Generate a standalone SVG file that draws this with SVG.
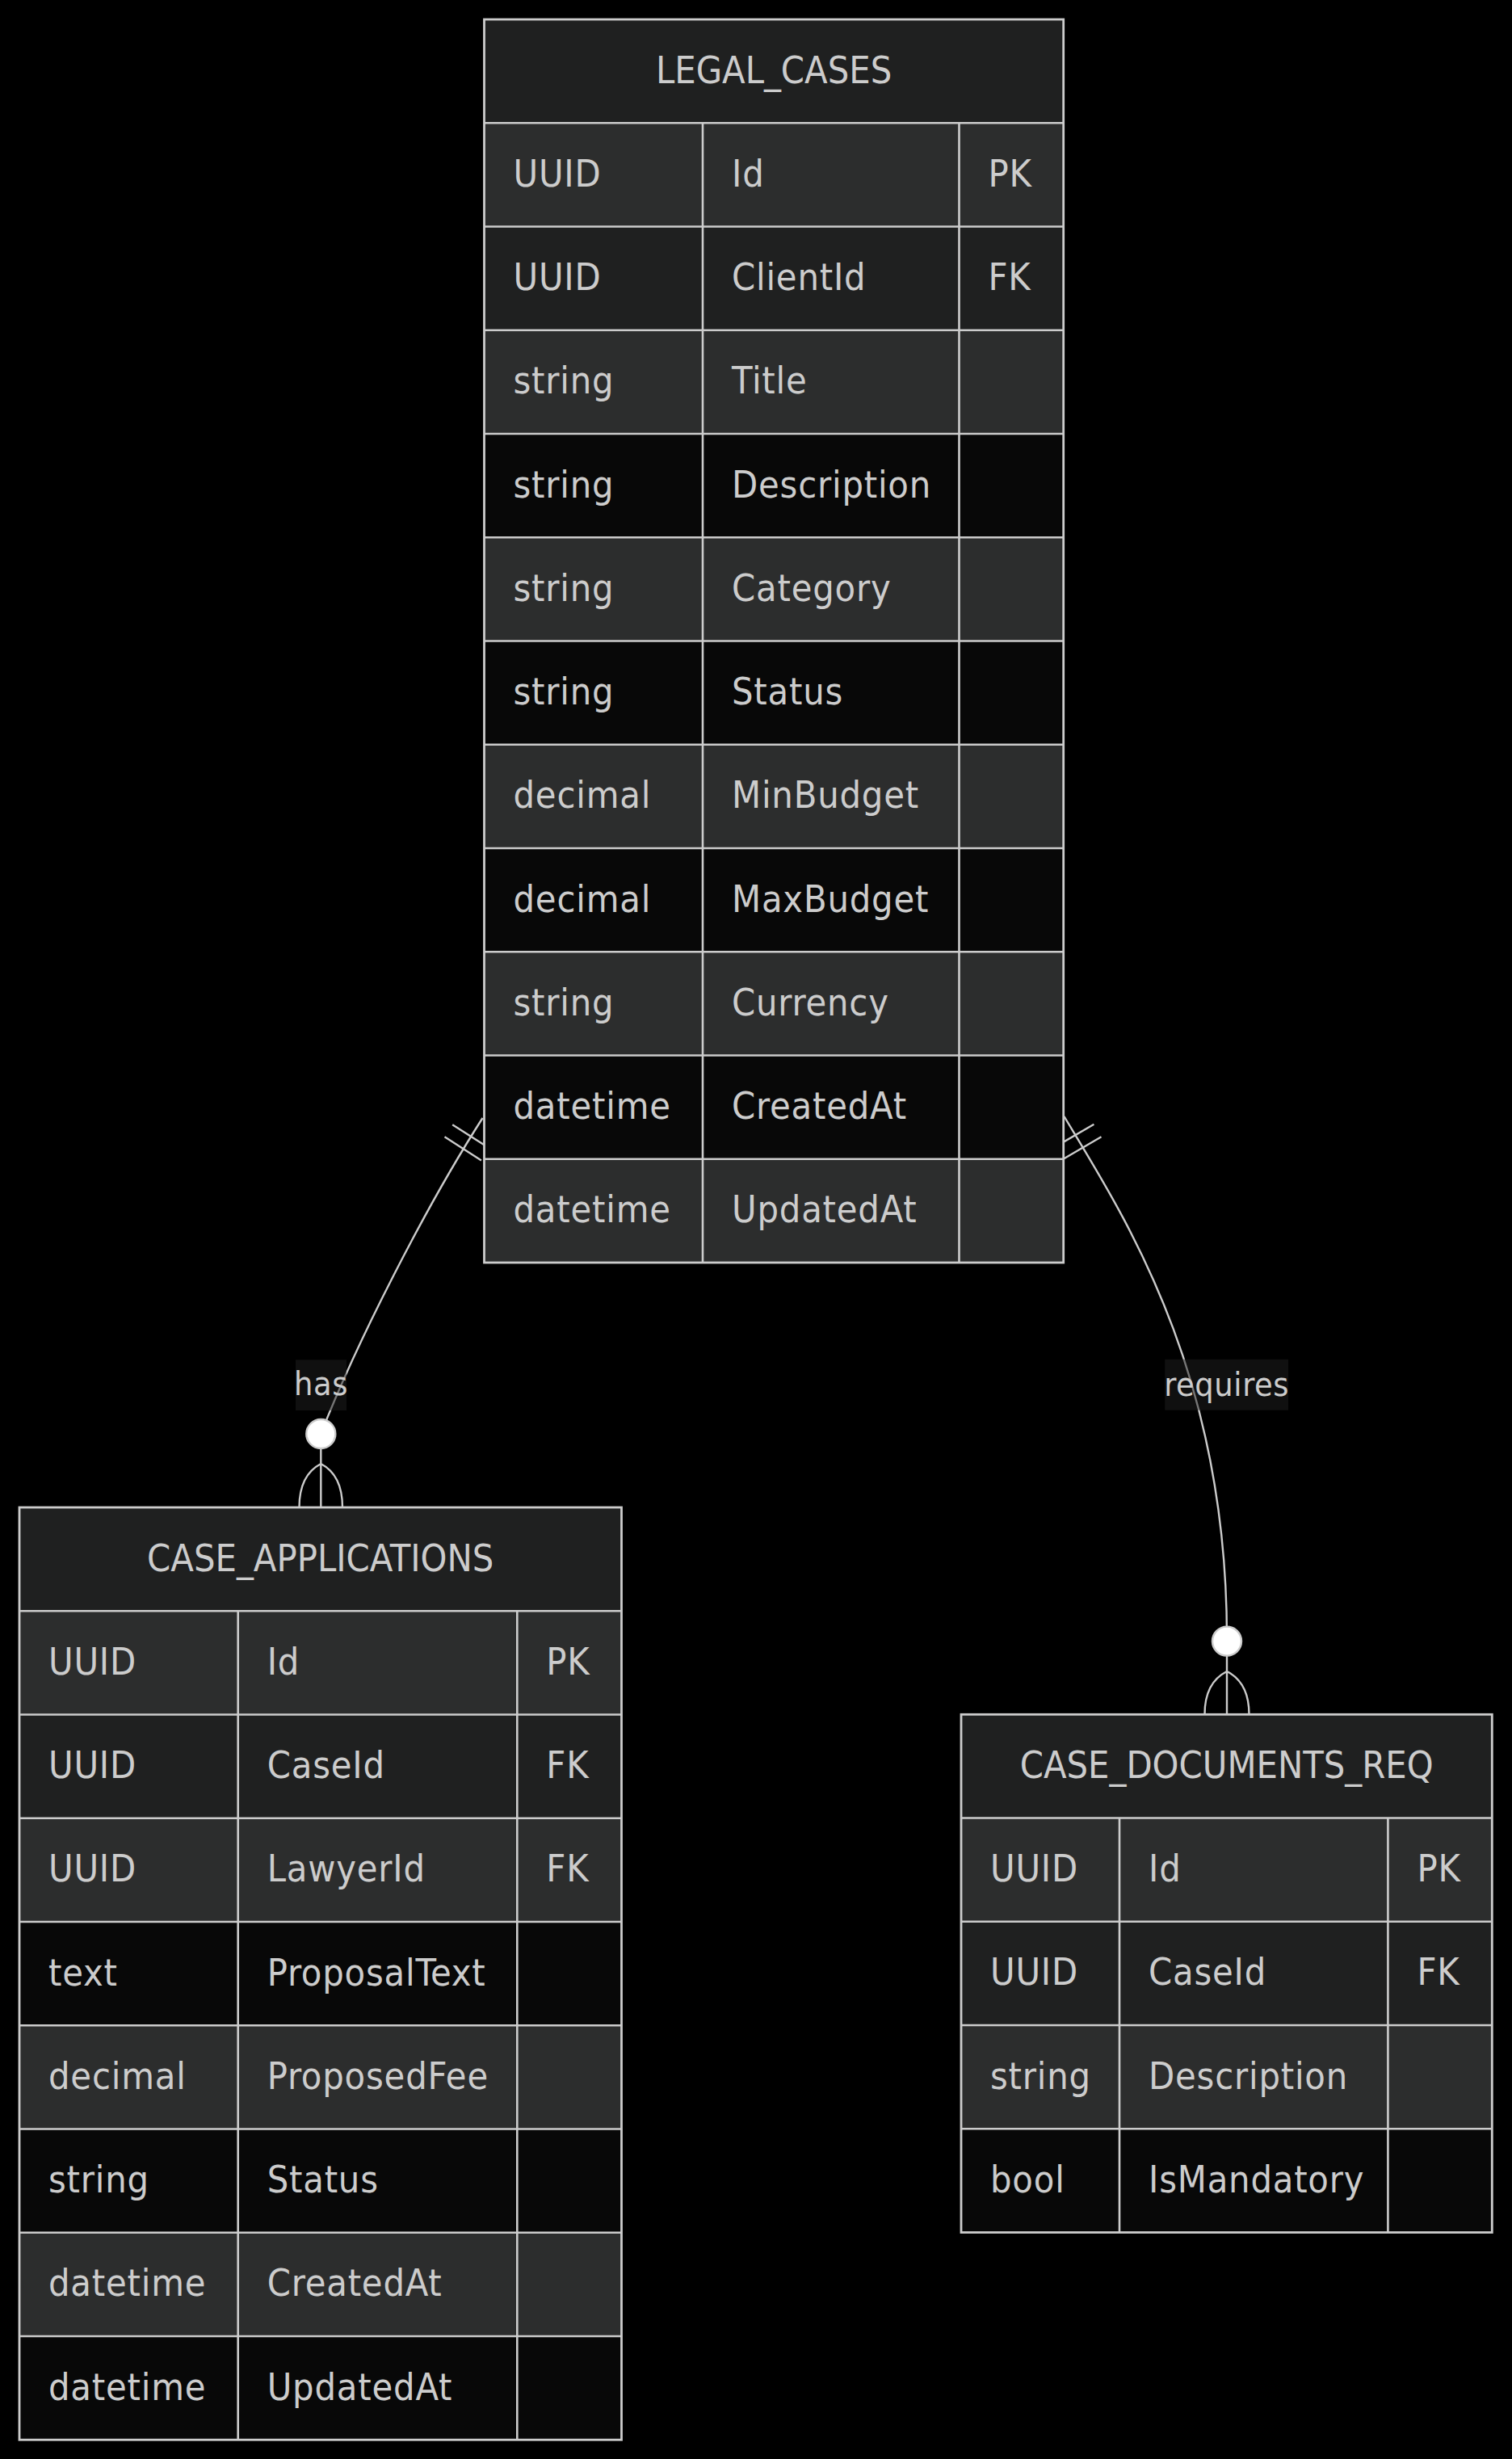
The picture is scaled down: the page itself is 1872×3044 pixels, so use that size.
<svg xmlns="http://www.w3.org/2000/svg" width="1872" height="3044" viewBox="0 0 1872 3044">
<style>
.bg{fill:#000000}
.hdr{fill:#1f2020}
.odd{fill:#2c2d2d}
.even{fill:#080808}
.even2{fill:#1f2020}
.bd{stroke:#cccccc;stroke-width:2.8;fill:none}
.ln{stroke:#cccccc;stroke-width:2.6;fill:none}
.t{font-family:'DejaVu Sans Condensed','DejaVu Sans',sans-serif;font-stretch:condensed;font-size:46.5px;fill:#cccccc;letter-spacing:0.8px}
.c{text-anchor:middle;letter-spacing:0px}
.edge{stroke:#cccccc;stroke-width:2.4;fill:none}
.mk{stroke:#cccccc;stroke-width:2.4;fill:none}
.dot{stroke:#cccccc;stroke-width:2.4;fill:#ffffff}
.lblbg{fill:#1f2020;opacity:0.5}
.lbl{font-family:'DejaVu Sans Condensed','DejaVu Sans',sans-serif;font-stretch:condensed;font-size:41px;fill:#cccccc;text-anchor:middle;letter-spacing:0.6px}
</style>
<rect class="bg" x="0" y="0" width="1872" height="3044"/>

<g id="connectors">
  <g id="edge-has">
    <path class="edge" d="M597.5,1384 C527.3,1493.5 440.7,1663.4 397.3,1775"/>
    <path class="mk" d="M560.2,1392.2 L605.7,1421.3 M550.5,1407.3 L595.9,1436.5"/>
    <path class="mk" d="M397.3,1793 L397.3,1866 M397.3,1812 Q370.5,1826 370.5,1866 M397.3,1812 Q424,1826 424,1866"/>
    <circle class="dot" cx="397.3" cy="1775" r="18"/>
    <rect class="lblbg" x="366" y="1683.3" width="63" height="62.7"/>
    <text class="lbl" x="397.5" y="1726.7">has</text>
  </g>
  <g id="edge-requires">
    <path class="edge" d="M1317.5,1382 C1392,1506 1520,1700 1519,2031.6"/>
    <path class="mk" d="M1354.4,1391.7 L1307.8,1418.9 M1363.5,1407.2 L1316.9,1434.5"/>
    <path class="mk" d="M1519,2049.6 L1519,2122.3 M1519,2069 Q1491.5,2083 1491.5,2122.3 M1519,2069 Q1546.5,2083 1546.5,2122.3"/>
    <circle class="dot" cx="1519" cy="2031.6" r="18"/>
    <rect class="lblbg" x="1442.3" y="1682.7" width="152.7" height="63"/>
    <text class="lbl" x="1518.7" y="1727.7">requires</text>
  </g>
</g>

<g id="LEGAL_CASES">
  <rect class="hdr" x="599.5" y="24" width="717.2" height="128.25"/>
  <rect class="odd" x="599.5" y="152.25" width="717.2" height="128.25"/>
  <rect class="even2" x="599.5" y="280.5" width="717.2" height="128.25"/>
  <rect class="odd" x="599.5" y="408.75" width="717.2" height="128.25"/>
  <rect class="even" x="599.5" y="537" width="717.2" height="128.25"/>
  <rect class="odd" x="599.5" y="665.25" width="717.2" height="128.25"/>
  <rect class="even" x="599.5" y="793.5" width="717.2" height="128.25"/>
  <rect class="odd" x="599.5" y="921.75" width="717.2" height="128.25"/>
  <rect class="even" x="599.5" y="1050" width="717.2" height="128.25"/>
  <rect class="odd" x="599.5" y="1178.25" width="717.2" height="128.25"/>
  <rect class="even" x="599.5" y="1306.5" width="717.2" height="128.25"/>
  <rect class="odd" x="599.5" y="1434.75" width="717.2" height="128.25"/>
  <path class="ln" d="M599.5,152.25 H1316.7 M599.5,280.5 H1316.7 M599.5,408.75 H1316.7 M599.5,537 H1316.7 M599.5,665.25 H1316.7 M599.5,793.5 H1316.7 M599.5,921.75 H1316.7 M599.5,1050 H1316.7 M599.5,1178.25 H1316.7 M599.5,1306.5 H1316.7 M599.5,1434.75 H1316.7 M870,152.25 V1563 M1187.5,152.25 V1563"/>
  <rect class="bd" x="599.5" y="24" width="717.2" height="1539"/>
  <text class="t c" x="958.1" y="102.5">LEGAL_CASES</text>
  <text class="t" x="635.5" y="230.75">UUID</text><text class="t" x="906" y="230.75">Id</text><text class="t" x="1223.5" y="230.75">PK</text>
  <text class="t" x="635.5" y="359">UUID</text><text class="t" x="906" y="359">ClientId</text><text class="t" x="1223.5" y="359">FK</text>
  <text class="t" x="635.5" y="487.25">string</text><text class="t" x="906" y="487.25">Title</text>
  <text class="t" x="635.5" y="615.5">string</text><text class="t" x="906" y="615.5">Description</text>
  <text class="t" x="635.5" y="743.75">string</text><text class="t" x="906" y="743.75">Category</text>
  <text class="t" x="635.5" y="872">string</text><text class="t" x="906" y="872">Status</text>
  <text class="t" x="635.5" y="1000.25">decimal</text><text class="t" x="906" y="1000.25">MinBudget</text>
  <text class="t" x="635.5" y="1128.5">decimal</text><text class="t" x="906" y="1128.5">MaxBudget</text>
  <text class="t" x="635.5" y="1256.75">string</text><text class="t" x="906" y="1256.75">Currency</text>
  <text class="t" x="635.5" y="1385">datetime</text><text class="t" x="906" y="1385">CreatedAt</text>
  <text class="t" x="635.5" y="1513.25">datetime</text><text class="t" x="906" y="1513.25">UpdatedAt</text>
</g>

<g id="CASE_APPLICATIONS">
  <rect class="hdr" x="24" y="1866" width="745.5" height="128.25"/>
  <rect class="odd" x="24" y="1994.25" width="745.5" height="128.25"/>
  <rect class="even2" x="24" y="2122.5" width="745.5" height="128.25"/>
  <rect class="odd" x="24" y="2250.75" width="745.5" height="128.25"/>
  <rect class="even" x="24" y="2379" width="745.5" height="128.25"/>
  <rect class="odd" x="24" y="2507.25" width="745.5" height="128.25"/>
  <rect class="even" x="24" y="2635.5" width="745.5" height="128.25"/>
  <rect class="odd" x="24" y="2763.75" width="745.5" height="128.25"/>
  <rect class="even" x="24" y="2892" width="745.5" height="128.25"/>
  <path class="ln" d="M24,1994.25 H769.5 M24,2122.5 H769.5 M24,2250.75 H769.5 M24,2379 H769.5 M24,2507.25 H769.5 M24,2635.5 H769.5 M24,2763.75 H769.5 M24,2892 H769.5 M294.7,1994.25 V3020.25 M640.3,1994.25 V3020.25"/>
  <rect class="bd" x="24" y="1866" width="745.5" height="1154.25"/>
  <text class="t c" x="396.75" y="1944.5">CASE_APPLICATIONS</text>
  <text class="t" x="60" y="2072.75">UUID</text><text class="t" x="330.7" y="2072.75">Id</text><text class="t" x="676.3" y="2072.75">PK</text>
  <text class="t" x="60" y="2201">UUID</text><text class="t" x="330.7" y="2201">CaseId</text><text class="t" x="676.3" y="2201">FK</text>
  <text class="t" x="60" y="2329.25">UUID</text><text class="t" x="330.7" y="2329.25">LawyerId</text><text class="t" x="676.3" y="2329.25">FK</text>
  <text class="t" x="60" y="2457.5">text</text><text class="t" x="330.7" y="2457.5">ProposalText</text>
  <text class="t" x="60" y="2585.75">decimal</text><text class="t" x="330.7" y="2585.75">ProposedFee</text>
  <text class="t" x="60" y="2714">string</text><text class="t" x="330.7" y="2714">Status</text>
  <text class="t" x="60" y="2842.25">datetime</text><text class="t" x="330.7" y="2842.25">CreatedAt</text>
  <text class="t" x="60" y="2970.5">datetime</text><text class="t" x="330.7" y="2970.5">UpdatedAt</text>
</g>

<g id="CASE_DOCUMENTS_REQ">
  <rect class="hdr" x="1190" y="2122.3" width="657.3" height="128.25"/>
  <rect class="odd" x="1190" y="2250.55" width="657.3" height="128.25"/>
  <rect class="even2" x="1190" y="2378.8" width="657.3" height="128.25"/>
  <rect class="odd" x="1190" y="2507.05" width="657.3" height="128.25"/>
  <rect class="even" x="1190" y="2635.3" width="657.3" height="128.25"/>
  <path class="ln" d="M1190,2250.55 H1847.3 M1190,2378.8 H1847.3 M1190,2507.05 H1847.3 M1190,2635.3 H1847.3 M1386,2250.55 V2763.55 M1718.4,2250.55 V2763.55"/>
  <rect class="bd" x="1190" y="2122.3" width="657.3" height="641.25"/>
  <text class="t c" x="1518.65" y="2200.8">CASE_DOCUMENTS_REQ</text>
  <text class="t" x="1226" y="2329.05">UUID</text><text class="t" x="1422" y="2329.05">Id</text><text class="t" x="1754.4" y="2329.05">PK</text>
  <text class="t" x="1226" y="2457.3">UUID</text><text class="t" x="1422" y="2457.3">CaseId</text><text class="t" x="1754.4" y="2457.3">FK</text>
  <text class="t" x="1226" y="2585.55">string</text><text class="t" x="1422" y="2585.55">Description</text>
  <text class="t" x="1226" y="2713.8">bool</text><text class="t" x="1422" y="2713.8">IsMandatory</text>
</g>
</svg>
